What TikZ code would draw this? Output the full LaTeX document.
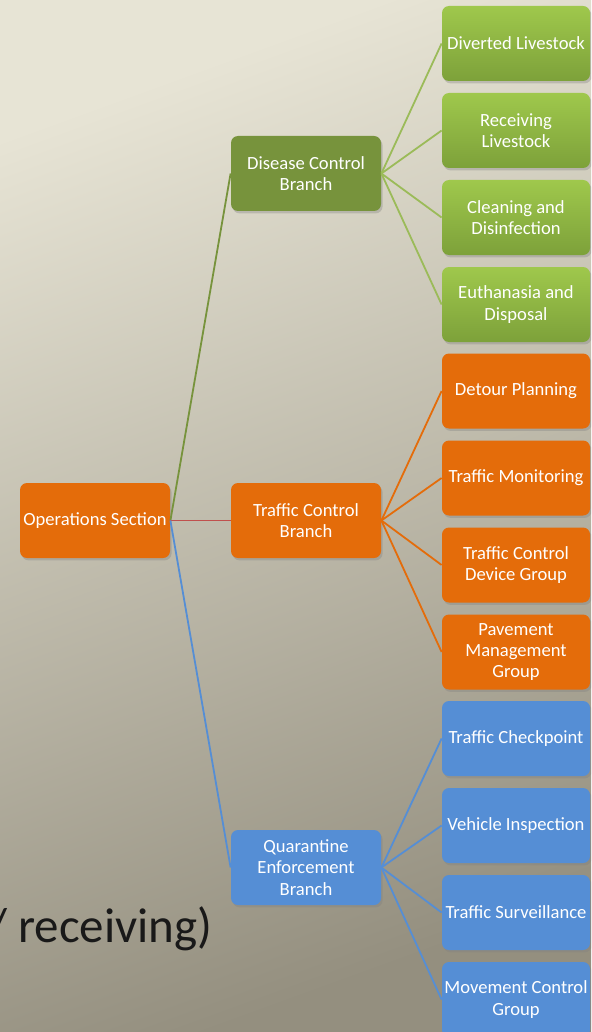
\documentclass[tikz,border=0pt]{standalone}
\usepackage{fontspec}
\setmainfont{Carlito}
\usetikzlibrary{shadows}
\definecolor{bgtop}{HTML}{E7E4D5}
\definecolor{bgbot}{HTML}{948F7F}
\definecolor{olive}{HTML}{77933C}
\definecolor{leafgreentop}{HTML}{9FC84C}
\definecolor{leafgreenbot}{HTML}{7DA13A}
\definecolor{lightgreen}{HTML}{9BBB59}
\definecolor{orangebox}{HTML}{E46C0A}
\definecolor{bluebox}{HTML}{558ED5}
\definecolor{redline}{HTML}{C0504D}
\begin{document}
\begin{tikzpicture}[x=0.5pt, y=-0.5pt,
  box/.style={shape=rectangle, rounded corners=3.5pt, minimum width=75pt, minimum height=37.5pt,
    inner sep=1pt, align=center, text=white, font=\fontsize{9.3}{10.6}\selectfont,
    drop shadow={opacity=0.35, shadow xshift=0.8pt, shadow yshift=-1.2pt}},
  leaf/.style={box, minimum width=74pt},
  greenbox/.style={box, fill=olive},
  greenleaf/.style={leaf, top color=leafgreentop, bottom color=leafgreenbot},
  orangebox/.style={box, fill=orangebox},
  orangeleaf/.style={leaf, fill=orangebox},
  bluebox/.style={box, fill=bluebox},
  blueleaf/.style={leaf, fill=bluebox},
  link/.style={-, line width=0.9pt}]
\clip (0,0) rectangle (591,1032);
\shade[top color=bgtop, bottom color=bgbot, shading angle=20] (0,0) rectangle (591,1032);
\node[anchor=base east, inner sep=0pt, font=\fontsize{24.5}{28}\selectfont, text=black!90] (note) at (213,942) {/ receiving)};
% root and branches
\node[orangebox] (ops) at (95,520.5) {Operations Section};
\node[greenbox] (disease) at (306,173.5) {Disease Control\\Branch};
\node[orangebox] (traffic) at (306,520.5) {Traffic Control\\Branch};
\node[bluebox] (quarantine) at (306,867.5) {Quarantine\\Enforcement\\Branch};
% leaves
\node[greenleaf] (diverted) at (516,43.5) {Diverted Livestock};
\node[greenleaf] (receiving) at (516,130.5) {Receiving\\Livestock};
\node[greenleaf] (cleaning) at (516,217.5) {Cleaning and\\Disinfection};
\node[greenleaf] (euthanasia) at (516,304.5) {Euthanasia and\\Disposal};
\node[orangeleaf] (detour) at (516,391) {Detour Planning};
\node[orangeleaf] (monitoring) at (516,478) {Traffic Monitoring};
\node[orangeleaf] (device) at (516,565) {Traffic Control\\Device Group};
\node[orangeleaf] (pavement) at (516,652) {Pavement\\Management\\Group};
\node[blueleaf] (checkpoint) at (516,738.5) {Traffic Checkpoint};
\node[blueleaf] (inspection) at (516,825.5) {Vehicle Inspection};
\node[blueleaf] (surveillance) at (516,912.5) {Traffic Surveillance};
\node[blueleaf] (movement) at (516,999.5) {Movement Control\\Group};
% connectors
\path [link, draw=olive] (ops.east) edge (disease.west);
\path [link, draw=redline] (ops.east) edge (traffic.west);
\path [link, draw=bluebox] (ops.east) edge (quarantine.west);
\path [link, draw=lightgreen] (disease.east) edge (diverted.west);
\path [link, draw=lightgreen] (disease.east) edge (receiving.west);
\path [link, draw=lightgreen] (disease.east) edge (cleaning.west);
\path [link, draw=lightgreen] (disease.east) edge (euthanasia.west);
\path [link, draw=orangebox] (traffic.east) edge (detour.west);
\path [link, draw=orangebox] (traffic.east) edge (monitoring.west);
\path [link, draw=orangebox] (traffic.east) edge (device.west);
\path [link, draw=orangebox] (traffic.east) edge (pavement.west);
\path [link, draw=bluebox] (quarantine.east) edge (checkpoint.west);
\path [link, draw=bluebox] (quarantine.east) edge (inspection.west);
\path [link, draw=bluebox] (quarantine.east) edge (surveillance.west);
\path [link, draw=bluebox] (quarantine.east) edge (movement.west);
\end{tikzpicture}
\end{document}
